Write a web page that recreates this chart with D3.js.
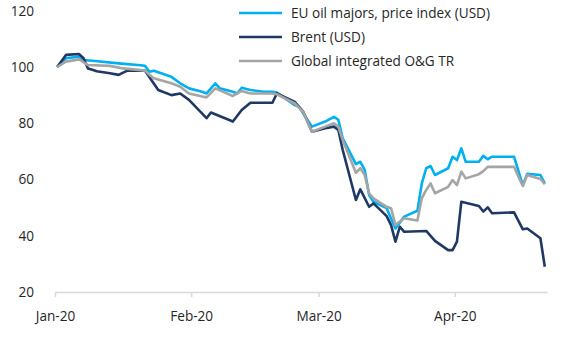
<!DOCTYPE html>
<html>
<head>
<meta charset="utf-8">
<script src="https://cdn.jsdelivr.net/npm/d3@7"></script>
<style>
  body { margin: 0; background: #fff; }
  svg text { font-family: "Open Sans", sans-serif; fill: #262626; }
</style>
</head>
<body>
<script>
// Series, indexed to 100 at the start of January 2020
const seriesNames = ["EU oil majors, price index (USD)", "Brent (USD)", "Global integrated O&G TR"];
const seriesColors = ["#00B0F0", "#203864", "#A5A5A5"];

const euDates = ["2020-01-01", "2020-01-03", "2020-01-06", "2020-01-07", "2020-01-09", "2020-01-15", "2020-01-20",
    "2020-01-21", "2020-01-22", "2020-01-23", "2020-01-27", "2020-01-29", "2020-01-31", "2020-02-03", "2020-02-04",
    "2020-02-06", "2020-02-07", "2020-02-10", "2020-02-11", "2020-02-12", "2020-02-14", "2020-02-17", "2020-02-19",
    "2020-02-20", "2020-02-24", "2020-02-25", "2020-02-26", "2020-02-28", "2020-03-02", "2020-03-04", "2020-03-05",
    "2020-03-06", "2020-03-09", "2020-03-10", "2020-03-11", "2020-03-12", "2020-03-13", "2020-03-16", "2020-03-18",
    "2020-03-20", "2020-03-23", "2020-03-24", "2020-03-25", "2020-03-26", "2020-03-27", "2020-03-30", "2020-03-31",
    "2020-04-01", "2020-04-02", "2020-04-03", "2020-04-06", "2020-04-07", "2020-04-08", "2020-04-09", "2020-04-14",
    "2020-04-15", "2020-04-16", "2020-04-17", "2020-04-20", "2020-04-21"];
const euValues = [100, 103.1, 103.7, 102.5, 102.2, 101.3, 100.6, 100.4, 98.3, 98.7, 96.5, 94.2, 92.4, 91.2, 90.6,
    94.2, 92.4, 91.2, 90.6, 92.6, 91.8, 91.2, 91.2, 90.9, 86.5, 85.9, 83.5, 78.8, 80.6, 82.3, 81.2,
    74.6, 65.5, 66.3, 63.4, 54.5, 52.1, 49.8, 42.6, 46.8, 48.9, 58.6, 64, 64.8, 61.6, 64, 68.1,
    66.9, 71.1, 66.3, 66.3, 68.4, 67.2, 68.1, 68.1, 63, 58, 62, 61.6, 58.6];

const brentDates = ["2020-01-01", "2020-01-03", "2020-01-06", "2020-01-07", "2020-01-08", "2020-01-09", "2020-01-10",
    "2020-01-13", "2020-01-15", "2020-01-16", "2020-01-17", "2020-01-21", "2020-01-24", "2020-01-27", "2020-01-29",
    "2020-01-31", "2020-02-04", "2020-02-05", "2020-02-10", "2020-02-12", "2020-02-14", "2020-02-19", "2020-02-20",
    "2020-02-24", "2020-02-26", "2020-02-28", "2020-03-02", "2020-03-04", "2020-03-05", "2020-03-06", "2020-03-09",
    "2020-03-10", "2020-03-12", "2020-03-13", "2020-03-16", "2020-03-17", "2020-03-18", "2020-03-19", "2020-03-20",
    "2020-03-25", "2020-03-27", "2020-03-30", "2020-03-31", "2020-04-01", "2020-04-02", "2020-04-06", "2020-04-07",
    "2020-04-08", "2020-04-09", "2020-04-14", "2020-04-16", "2020-04-17", "2020-04-20", "2020-04-21"];
const brentValues = [100, 104.3, 104.6, 103.1, 99.5, 99, 98.5, 97.8, 97.2, 98, 98.7, 98.7, 91.8, 90, 90.6,
    88.3, 81.8, 83.8, 80.6, 84.7, 87.3, 87.3, 90.6, 87.7, 84.1, 77, 78.2, 78.8, 77.6, 70.5, 52.7,
    56.5, 50.3, 51.5, 47, 43.8, 37.9, 43.2, 41.4, 41.7, 38.2, 34.9, 34.9, 37.9, 52.1, 50.6, 48.6,
    50.1, 48, 48.3, 42.3, 42.6, 39.1, 29];

const globalDates = ["2020-01-01", "2020-01-03", "2020-01-06", "2020-01-08", "2020-01-13", "2020-01-16", "2020-01-20",
    "2020-01-21", "2020-01-22", "2020-01-23", "2020-01-27", "2020-01-29", "2020-01-31", "2020-02-03", "2020-02-04",
    "2020-02-06", "2020-02-10", "2020-02-12", "2020-02-14", "2020-02-19", "2020-02-20", "2020-02-24", "2020-02-26",
    "2020-02-28", "2020-03-02", "2020-03-04", "2020-03-05", "2020-03-06", "2020-03-09", "2020-03-10", "2020-03-11",
    "2020-03-12", "2020-03-13", "2020-03-16", "2020-03-17", "2020-03-18", "2020-03-20", "2020-03-23", "2020-03-24",
    "2020-03-25", "2020-03-26", "2020-03-27", "2020-03-30", "2020-03-31", "2020-04-01", "2020-04-02", "2020-04-03",
    "2020-04-06", "2020-04-07", "2020-04-08", "2020-04-14", "2020-04-15", "2020-04-16", "2020-04-17", "2020-04-20",
    "2020-04-21"];
const globalValues = [100, 101.9, 102.7, 100.7, 100.4, 99.5, 98.9, 98.7, 97.2, 96, 94.2, 93, 90.6, 89.5, 89.2,
    92.4, 89.7, 91.5, 90.6, 90.6, 90.3, 87.1, 84, 77, 78.8, 80, 78.8, 74, 62.4, 64, 61.6,
    55.1, 53.3, 50.3, 49.8, 43.8, 46.2, 45.4, 53.3, 56.3, 58.6, 55.1, 57.4, 59.8, 58, 62.8, 60.4,
    61.9, 63, 64.5, 64.5, 61, 57.7, 61.6, 60.2, 58.3];

const yTicks = [20, 40, 60, 80, 100, 120];
const monthTicks = ["2020-01-01", "2020-02-01", "2020-03-01", "2020-04-01"];

const width = 573;
const height = 337;
const margin = { left: 55, right: 26, top: 11, bottom: 45 };
const fontSize = "13.6px";

const parseDate = d3.timeParse("%Y-%m-%d");

const svg = d3.select("body").append("svg")
    .attr("width", width)
    .attr("height", height);

// Date axis: each day gets a slot, points sit in the middle of their day
const x = d3.scaleTime()
    .domain([parseDate("2020-01-01"), parseDate("2020-04-22")])
    .range([margin.left, width - margin.right]);

const y = d3.scaleLinear()
    .domain([20, 120])
    .range([height - margin.bottom, margin.top - 0.25]);

const midDay = d => x(d3.timeHour.offset(d, 12));

// Y labels only, no axis line
const yAxis = svg.append("g")
    .attr("transform", `translate(${margin.left},0)`)
    .call(d3.axisLeft(y).tickValues(yTicks).tickSize(0).tickPadding(21));
yAxis.select(".domain").remove();
yAxis.selectAll("text")
    .style("font-size", fontSize)
    .style("font-family", "'Open Sans', sans-serif")
    .attr("fill", "#262626");

// Bottom axis with month ticks
const xAxis = svg.append("g")
    .attr("transform", `translate(0,${y(20)})`)
    .call(d3.axisBottom(x)
        .tickValues(monthTicks.map(parseDate))
        .tickFormat(d3.timeFormat("%b-%y"))
        .tickSize(5)
        .tickSizeOuter(0)
        .tickPadding(14));
xAxis.select(".domain").attr("stroke", "#D9D9D9").attr("stroke-width", 1.5);
xAxis.selectAll(".tick line").attr("stroke", "#D9D9D9").attr("stroke-width", 1.5);
xAxis.selectAll("text")
    .style("font-size", fontSize)
    .style("font-family", "'Open Sans', sans-serif")
    .attr("fill", "#262626");

// Build series
const series = [
    { name: seriesNames[0], color: seriesColors[0], dates: euDates, values: euValues },
    { name: seriesNames[1], color: seriesColors[1], dates: brentDates, values: brentValues },
    { name: seriesNames[2], color: seriesColors[2], dates: globalDates, values: globalValues }
].map(s => ({
    ...s,
    points: s.dates.map((d, i) => ({ date: parseDate(d), value: s.values[i] }))
}));

const line = d3.line()
    .x(d => midDay(d.date))
    .y(d => y(d.value));

svg.append("g")
    .selectAll("path")
    .data(series)
    .join("path")
    .attr("d", d => line(d.points))
    .attr("fill", "none")
    .attr("stroke", d => d.color)
    .attr("stroke-width", 2.6)
    .attr("stroke-linejoin", "round");

// Legend, top right
const legend = svg.append("g")
    .attr("transform", "translate(239,13)");

const legendItem = legend.selectAll("g")
    .data(series)
    .join("g")
    .attr("transform", (d, i) => `translate(0,${i * 24})`);

legendItem.append("line")
    .attr("x1", 0)
    .attr("x2", 43)
    .attr("stroke", d => d.color)
    .attr("stroke-width", 2.6);

legendItem.append("text")
    .attr("x", 52)
    .attr("dy", "0.35em")
    .style("font-size", fontSize)
    .text(d => d.name);
</script>
</body>
</html>
